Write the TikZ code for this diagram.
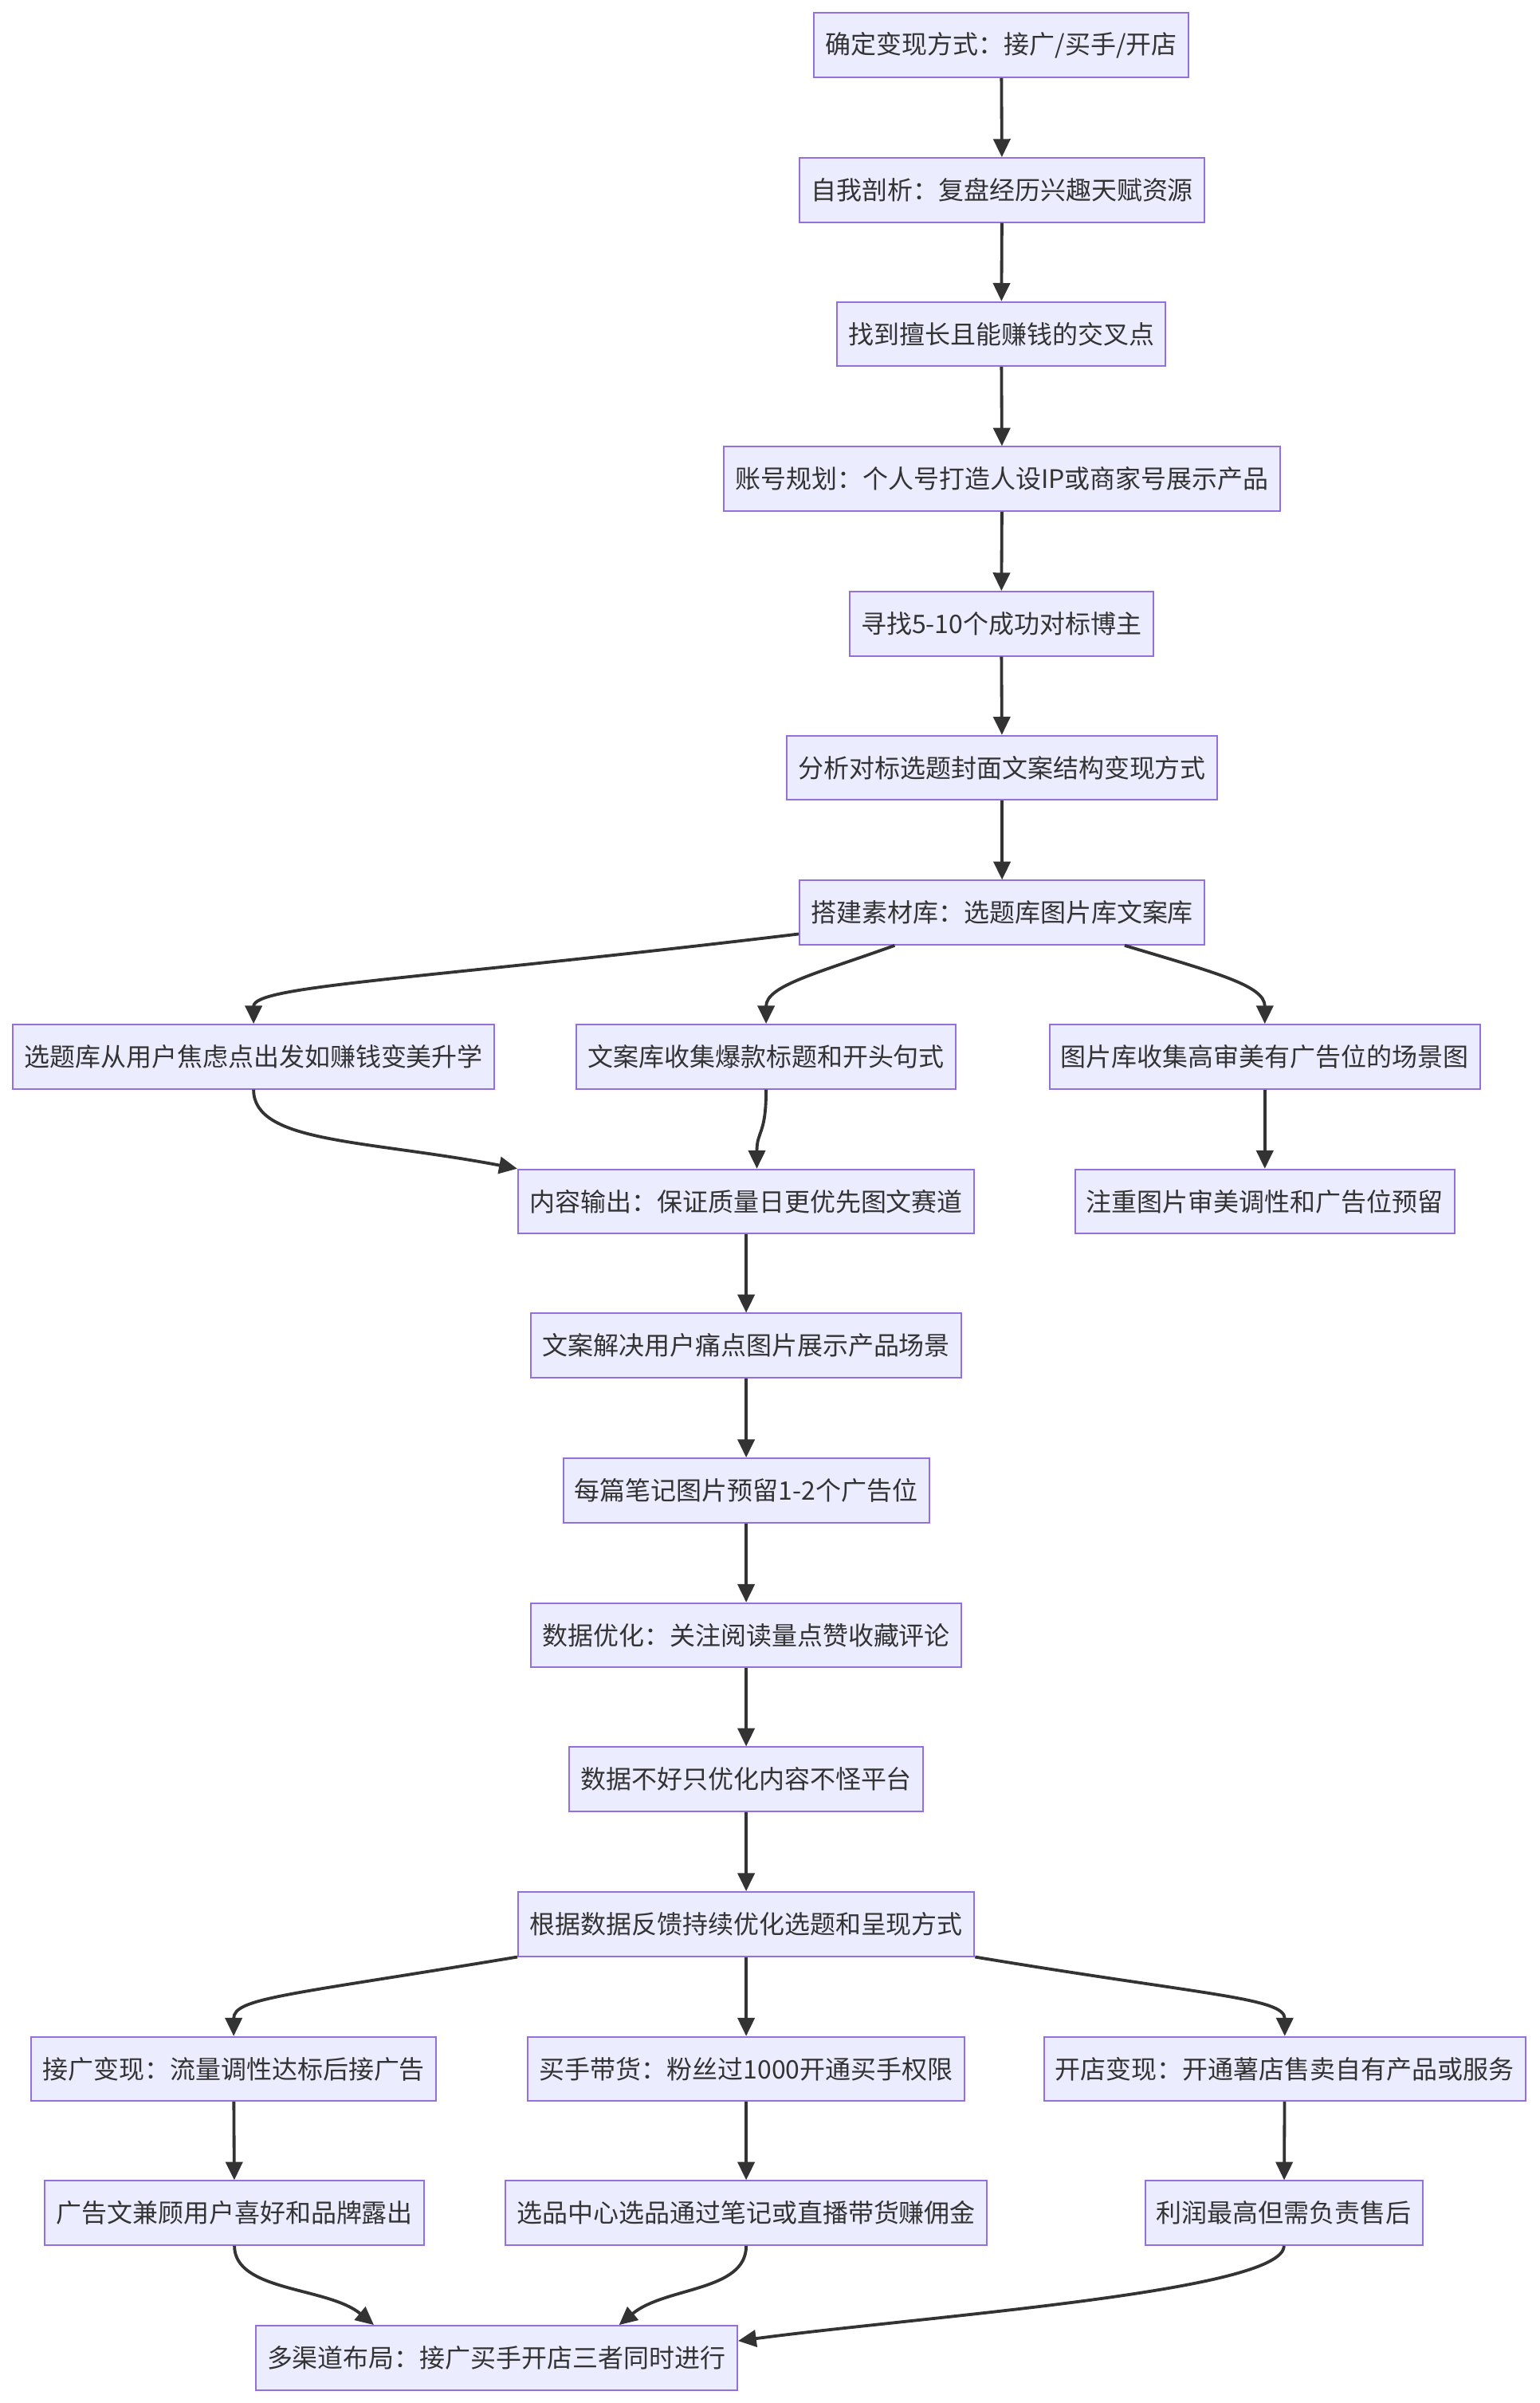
\documentclass[tikz,border=0pt]{standalone}
\usepackage{fontspec}
\setmainfont{Noto Sans CJK SC}
\usetikzlibrary{arrows.meta}

\definecolor{boxfill}{HTML}{ECECFF}
\definecolor{boxline}{HTML}{9370DB}
\definecolor{ink}{HTML}{333333}

\tikzset{
    card/.style={draw=boxline, fill=boxfill, line width=0.55pt, text=ink,
        font=\fontsize{9.1pt}{11pt}\selectfont,
        inner xsep=4.1pt, inner ysep=0pt, minimum height=22.9pt},
    link/.style={draw=ink, line width=1.09pt,
        -{Triangle[length=6.5pt,width=6pt]}}
}

\begin{document}
\begin{tikzpicture}[x=0.019224cm, y=-0.019224cm]

    \useasboundingbox (0,0) rectangle (1005,1568);

    % columna principal
    \node[card] (mode)     at (653.5,29.5)  {确定变现方式：接广/买手/开店};
    \node[card] (self)     at (654,124)     {自我剖析：复盘经历兴趣天赋资源};
    \node[card] (cross)    at (653.5,218)   {找到擅长且能赚钱的交叉点};
    \node[card] (account)  at (654,312.5)   {账号规划：个人号打造人设IP或商家号展示产品};
    \node[card] (bench)    at (653.5,407)   {寻找5-10个成功对标博主};
    \node[card] (analyse)  at (654,501)     {分析对标选题封面文案结构变现方式};
    \node[card] (library)  at (654,595.5)   {搭建素材库：选题库图片库文案库};

    % 素材库三个分支
    \node[card] (topics)   at (165.5,689.5) {选题库从用户焦虑点出发如赚钱变美升学};
    \node[card] (copy)     at (500,689.5)   {文案库收集爆款标题和开头句式};
    \node[card] (pics)     at (825.5,689.5) {图片库收集高审美有广告位的场景图};
    \node[card] (picnote)  at (825.5,784)   {注重图片审美调性和广告位预留};

    % 内容与数据
    \node[card] (output)   at (487,784)     {内容输出：保证质量日更优先图文赛道};
    \node[card] (solve)    at (487,878)     {文案解决用户痛点图片展示产品场景};
    \node[card] (adslot)   at (487,972.5)   {每篇笔记图片预留1-2个广告位};
    \node[card] (data)     at (487,1067)    {数据优化：关注阅读量点赞收藏评论};
    \node[card] (content)  at (487,1161)    {数据不好只优化内容不怪平台};
    \node[card] (feedback) at (487,1255.5)  {根据数据反馈持续优化选题和呈现方式};

    % 三种变现
    \node[card] (ads)      at (152.5,1350)  {接广变现：流量调性达标后接广告};
    \node[card] (buyer)    at (487,1350)    {买手带货：粉丝过1000开通买手权限};
    \node[card] (shop)     at (838.5,1350)  {开店变现：开通薯店售卖自有产品或服务};
    \node[card] (adcopy)   at (153,1444)    {广告文兼顾用户喜好和品牌露出};
    \node[card] (select)   at (487,1444)    {选品中心选品通过笔记或直播带货赚佣金};
    \node[card] (profit)   at (838,1444)    {利润最高但需负责售后};
    \node[card] (multi)    at (324,1538.5)  {多渠道布局：接广买手开店三者同时进行};

    % flechas rectas
    \draw[link] (mode) -- (self);
    \draw[link] (self) -- (cross);
    \draw[link] (cross) -- (account);
    \draw[link] (account) -- (bench);
    \draw[link] (bench) -- (analyse);
    \draw[link] (analyse) -- (library);
    \draw[link] (pics) -- (picnote);
    \draw[link] (output) -- (solve);
    \draw[link] (solve) -- (adslot);
    \draw[link] (adslot) -- (data);
    \draw[link] (data) -- (content);
    \draw[link] (content) -- (feedback);
    \draw[link] (feedback) -- (buyer);
    \draw[link] (ads) -- (adcopy);
    \draw[link] (buyer) -- (select);
    \draw[link] (shop) -- (profit);

    % flechas curvas
    \draw[link] (library.186) .. controls +(-250,30) and +(0,-25) .. (topics.north);
    \draw[link] (library.197) .. controls +(-50,18) and +(0,-25) .. (copy.north);
    \draw[link] (library.345) .. controls +(60,18) and +(0,-25) .. (pics.north);
    \draw[link] (topics.south) .. controls +(0,35) and +(-100,-19) .. (output.north west);
    \draw[link] (copy.south) .. controls +(0,30) and +(0,-25) .. (output.72);
    \draw[link] (feedback.south west) .. controls +(-150,25) and +(0,-25) .. (ads.north);
    \draw[link] (feedback.south east) .. controls +(150,25) and +(0,-25) .. (shop.north);
    \draw[link] (adcopy.south) .. controls +(0,30) and +(-30,-25) .. (multi.165);
    \draw[link] (select.south) .. controls +(0,30) and +(30,-25) .. (multi.15);
    \draw[link] (profit.south) .. controls +(0,30) and +(120,-16) .. (multi.4);

\end{tikzpicture}
\end{document}
